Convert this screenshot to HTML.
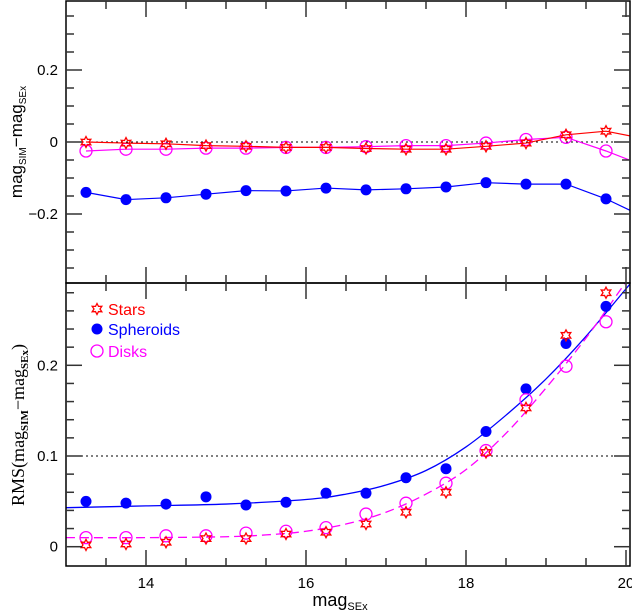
<!DOCTYPE html>
<html><head><meta charset="utf-8"><style>
body{margin:0;background:#fff;width:632px;height:612px;overflow:hidden}
svg{display:block}
</style></head><body>
<svg id="c" width="632" height="612" xmlns="http://www.w3.org/2000/svg" style="font-family:'Liberation Sans',sans-serif"></svg>
<script>
const mags=[13.25,13.75,14.25,14.75,15.25,15.75,16.25,16.75,17.25,17.75,18.25,18.75,19.25,19.75];
const topStars=[0,-0.003,-0.005,-0.01,-0.012,-0.015,-0.015,-0.018,-0.02,-0.02,-0.012,-0.003,0.02,0.03];
const topDisks=[-0.025,-0.02,-0.02,-0.017,-0.017,-0.015,-0.015,-0.013,-0.01,-0.01,-0.003,0.007,0.013,-0.025];
const topSph=[-0.14,-0.16,-0.155,-0.145,-0.135,-0.136,-0.128,-0.133,-0.13,-0.125,-0.113,-0.117,-0.117,-0.158];
const topEdge=[0.015,-0.055,-0.195];
const rmsSph=[0.05,0.048,0.047,0.055,0.046,0.049,0.059,0.059,0.076,0.086,0.127,0.174,0.224,0.265];
const rmsDisks=[0.01,0.01,0.012,0.012,0.015,0.017,0.021,0.036,0.048,0.07,0.106,0.162,0.199,0.248];
const rmsStars=[0.002,0.003,0.005,0.009,0.009,0.014,0.016,0.025,0.038,0.06,0.104,0.153,0.233,0.28];
const fitSphX=[13,14,15,16,16.5,17,17.5,18,18.5,19,19.5,20.1];
const fitSphY=[0.043,0.045,0.047,0.052,0.058,0.068,0.084,0.11,0.145,0.185,0.232,0.295];
const fitDiskX=[13,14,15,15.5,16,16.5,17,17.5,18,18.5,19,19.5,20];
const fitDiskY=[0.01,0.01,0.011,0.013,0.017,0.025,0.038,0.058,0.085,0.125,0.175,0.23,0.292];
const xTicks=[14,16,18,20];
const topTicks=[-0.2,0,0.2];
const botTicks=[0,0.1,0.2];

const svg=document.getElementById('c');
const NS='http://www.w3.org/2000/svg';
const L=66,R=630,T1=1,B1=283,T2=283,B2=566;
const X=v=>L+(v-13)*80;
const Y1=v=>142-v*360;
const Y2=v=>546.7-v*907;
function el(tag,a,p){const e=document.createElementNS(NS,tag);for(const k in a)e.setAttribute(k,a[k]);(p||svg).appendChild(e);return e;}
const clip1=el('clipPath',{id:'c1'});el('rect',{x:L,y:T1,width:R-L,height:B1-T1},clip1);
const clip2=el('clipPath',{id:'c2'});el('rect',{x:L,y:T2,width:R-L,height:B2-T2},clip2);
const g1=el('g',{'clip-path':'url(#c1)'});


const g2=el('g',{'clip-path':'url(#c2)'});



let f=el('rect',{x:L,y:T1,width:R-L,height:B1-T1,fill:'none',stroke:'#000','stroke-width':1.5});


f=el('rect',{x:L,y:T2,width:R-L,height:B2-T2,fill:'none',stroke:'#000','stroke-width':1.5});



for(let v=13.5;v<=20.01;v+=0.5){
  const major=Math.abs(v-Math.round(v))<1e-6&&Math.round(v)%2===0;
  const len=major?16:8;
  const x=X(v);
  [[T1,1],[B1,-1],[T2,1],[B2,-1]].forEach(([y,d])=>el('line',{x1:x,x2:x,y1:y,y2:y+d*len,stroke:'#333','stroke-width':1.5}));
}
xTicks.forEach(v=>{const t=el('text',{x:X(v),y:588,'font-size':15,'text-anchor':'middle'});t.textContent=v;

});
for(let v=-0.35;v<=0.351;v+=0.05){const y=Y1(v);const maj=Math.abs(v*10-Math.round(v*10))<1e-6&&Math.round(v*10)%2===0;const len=maj?16:8;
el('line',{x1:L,x2:L+len,y1:y,y2:y,stroke:'#333','stroke-width':1.5});el('line',{x1:R,x2:R-len,y1:y,y2:y,stroke:'#333','stroke-width':1.5});}
topTicks.forEach(v=>{const t=el('text',{x:L-8,y:Y1(v)+5,'font-size':15,'text-anchor':'end'});t.textContent=(v<0?'\u2212':'')+(v===0?'0':Math.abs(v).toFixed(1));

});
for(let i=-1;i<=14;i++){const v=i*0.02;const y=Y2(v);if(y<T2+2||y>B2-2)continue;const maj=i%5===0;const len=maj?16:8;
el('line',{x1:L,x2:L+len,y1:y,y2:y,stroke:'#333','stroke-width':1.5});el('line',{x1:R,x2:R-len,y1:y,y2:y,stroke:'#333','stroke-width':1.5});}
botTicks.forEach(v=>{const t=el('text',{x:L-8,y:Y2(v)+5,'font-size':15,'text-anchor':'end'});t.textContent=v===0?'0':v.toFixed(1);

});

let r=el('line',{x1:L,x2:R,y1:Y1(0),y2:Y1(0),stroke:'#000','stroke-dasharray':'2,3'},g1);


r=el('line',{x1:L,x2:R,y1:Y2(0.1),y2:Y2(0.1),stroke:'#000','stroke-dasharray':'2,3'},g2);



function star(p,x,y,s){const pts=[];for(let i=0;i<12;i++){const a=Math.PI/6*i-Math.PI/2;const rr=i%2?s*0.55:s;pts.push((x+rr*Math.cos(a)).toFixed(1)+','+(y+rr*Math.sin(a)).toFixed(1));}
return el('polygon',{points:pts.join(' '),fill:'none',stroke:'#f00','stroke-width':1.3},p);}
function marker(type,p,x,y){let m;
if(type==='s')m=star(p,x,y,5.5);
else if(type==='f')m=el('circle',{cx:x,cy:y,r:5.5,fill:'#00f'},p);
else m=el('circle',{cx:x,cy:y,r:6,fill:'none',stroke:'#f0f','stroke-width':1.3},p);return m;}

function topSeries(vals,edge,color,type,name){
  const pts=mags.map((m,i)=>X(m)+','+Y1(vals[i]));pts.push(X(20.1)+','+Y1(edge));
  const pl=el('polyline',{points:pts.join(' '),fill:'none',stroke:color,'stroke-width':1.2},g1);
  
  
  mags.forEach((m,i)=>{const k=marker(type,g1,X(m),Y1(vals[i]));
  
  });
}
topSeries(topSph,topEdge[2],'#00f','f','top-spheroids');
topSeries(topDisks,topEdge[1],'#f0f','o','top-disks');
topSeries(topStars,topEdge[0],'#f00','s','top-stars');

function curve(xs,ys,color,dash,name){
  const P=xs.map((x,i)=>[X(x),Y2(ys[i])]);let d='M'+P[0][0]+','+P[0][1];
  for(let i=0;i<P.length-1;i++){const p0=P[Math.max(0,i-1)],p1=P[i],p2=P[i+1],p3=P[Math.min(P.length-1,i+2)];
  d+=` C${p1[0]+(p2[0]-p0[0])/6},${p1[1]+(p2[1]-p0[1])/6} ${p2[0]-(p3[0]-p1[0])/6},${p2[1]-(p3[1]-p1[1])/6} ${p2[0]},${p2[1]}`;}
  const a={d:d,fill:'none',stroke:color,'stroke-width':1.3};if(dash)a['stroke-dasharray']=dash;
  const c=el('path',a,g2);
  
  
}
curve(fitSphX,fitSphY,'#00f',null,'spheroids-fit-curve');
curve(fitDiskX,fitDiskY,'#f0f','9,5','disks-fit-curve');
mags.forEach((m,i)=>{let k=marker('f',g2,X(m),Y2(rmsSph[i]));


k=marker('o',g2,X(m),Y2(rmsDisks[i]));


k=marker('s',g2,X(m),Y2(rmsStars[i]));

});

[['s','Stars','#f00',309],['f','Spheroids','#00f',329],['o','Disks','#f0f',351]].forEach(([t,lab,c,y])=>{
 const m=marker(t,svg,97,y);
 
 
 const tx=el('text',{x:108,y:y+6,'font-size':16,fill:c});tx.textContent=lab;
 
 });
</script>
<svg width="632" height="612" style="position:absolute;left:0;top:0" xmlns="http://www.w3.org/2000/svg">
<text transform="translate(22,142) rotate(-90)" text-anchor="middle" font-size="17" style="font-family:'Liberation Sans',sans-serif">mag<tspan font-size="10" dy="4">SIM</tspan><tspan dy="-4">−mag</tspan><tspan font-size="10" dy="4">SEx</tspan></text>
<text transform="translate(24,425) rotate(-90)" text-anchor="middle" font-size="18" style="font-family:'Liberation Serif',serif">RMS(mag<tspan font-size="11" font-weight="bold" dy="4">SIM</tspan><tspan dy="-4">−mag</tspan><tspan font-size="11" font-weight="bold" dy="4">SEx</tspan><tspan dy="-4">)</tspan></text>
<text x="340" y="606" text-anchor="middle" font-size="18" style="font-family:'Liberation Sans',sans-serif">mag<tspan font-size="11" dy="4">SEx</tspan></text>
</svg>
</body></html>
